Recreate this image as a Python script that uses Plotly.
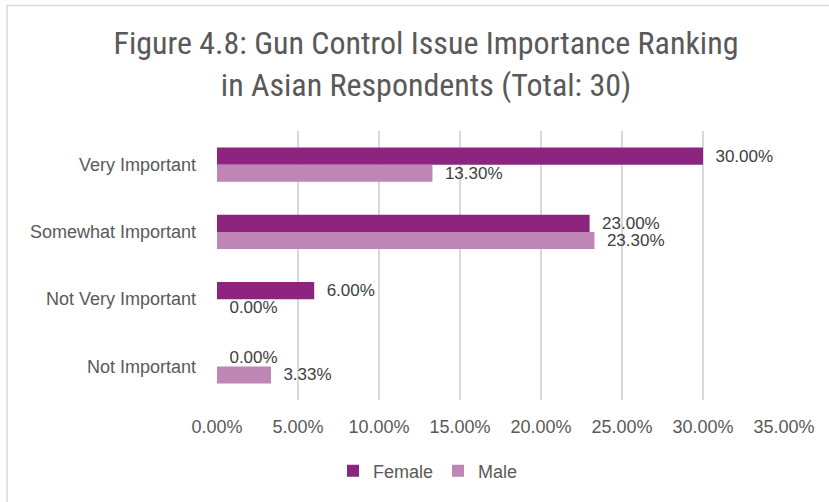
import plotly.graph_objects as go

# Survey results: share of respondents per importance level, by gender
categories = ["Very Important", "Somewhat Important", "Not Very Important", "Not Important"]
female = [0.30, 0.23, 0.06, 0.0]
male = [0.133, 0.233, 0.0, 0.0333]
x_ticks = [0, 0.05, 0.10, 0.15, 0.20, 0.25, 0.30, 0.35]
x_tick_labels = ["0.00%", "5.00%", "10.00%", "15.00%", "20.00%", "25.00%", "30.00%", "35.00%"]

W, H = 829, 502
L, R, T, B = 217, 45, 131, 102
plot_w = W - L - R
plot_h = H - T - B


def px_x(p):
    return (p - L) / plot_w


def px_y(p):
    return (H - B - p) / plot_h


label_font = dict(family="Liberation Sans, Arial, sans-serif", size=17, color="#404040")
axis_font = dict(family="Liberation Sans, Arial, sans-serif", size=18, color="#595959")

# small gap between bar end and its value label
value_fmt = "\u00a0\u00a0%{x:.2%}"

fig = go.Figure()
fig.add_trace(go.Bar(
    name="Female", y=categories, x=female, orientation="h",
    marker=dict(color="#8C2480", line=dict(width=0)),
    texttemplate=value_fmt, textposition="outside", textfont=label_font,
    constraintext="none", cliponaxis=False,
))
fig.add_trace(go.Bar(
    name="Male", y=categories, x=male, orientation="h",
    marker=dict(color="#BE85B5", line=dict(width=0)),
    texttemplate=value_fmt, textposition="outside", textfont=label_font,
    constraintext="none", cliponaxis=False,
))

fig.update_layout(
    width=W, height=H,
    margin=dict(l=L, r=R, t=T, b=B),
    paper_bgcolor="white", plot_bgcolor="white",
    barmode="group", bargap=0.49, bargroupgap=0,
    title=dict(
        text="Figure 4.8: Gun Control Issue Importance Ranking<br>in Asian Respondents (Total: 30)",
        x=426 / W, xanchor="center", y=1 - 54 / H, yanchor="middle",
        font=dict(family="Liberation Sans Narrow, Roboto Condensed, Liberation Sans, sans-serif",
                  size=32, color="#595959"),
    ),
    xaxis=dict(
        range=[0, 0.35], tickvals=x_ticks, ticktext=x_tick_labels,
        showgrid=True, gridcolor="#D9D9D9", gridwidth=1.5,
        zeroline=False, showline=False, ticks="", tickfont=axis_font,
        ticklabelstandoff=14,
    ),
    yaxis=dict(
        autorange="reversed", showgrid=False, showline=False, ticks="",
        ticklabelstandoff=20, tickfont=axis_font,
    ),
    legend=dict(
        orientation="h", x=px_x(428), xanchor="center", y=px_y(471), yanchor="middle",
        font=axis_font, itemwidth=30, traceorder="normal",
    ),
    shapes=[dict(
        type="rect", xref="paper", yref="paper",
        x0=px_x(7), x1=px_x(845), y0=px_y(520), y1=px_y(5.5),
        line=dict(color="#D9D9D9", width=1.5), layer="below",
    )],
)

fig.write_html("out.html")
